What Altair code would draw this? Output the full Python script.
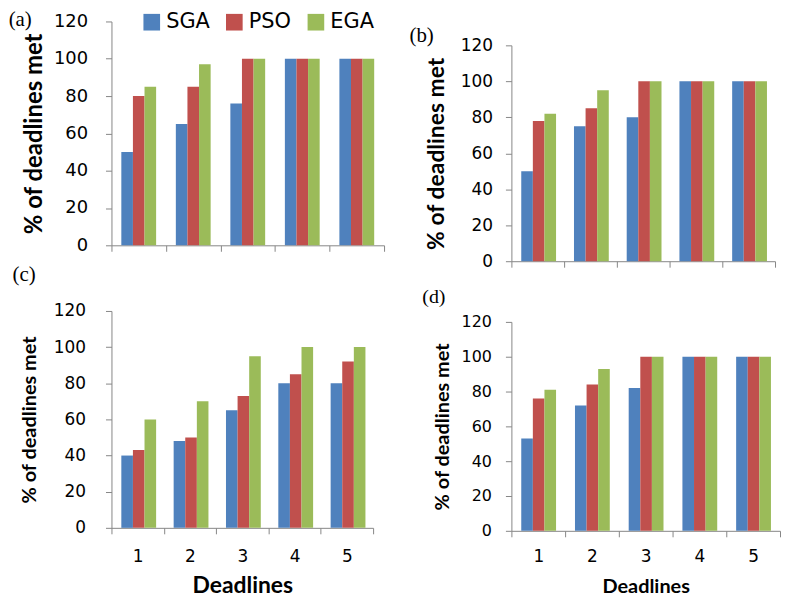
import altair as alt
import pandas as pd

deadlines = ["1", "2", "3", "4", "5"]
algorithms = ["SGA", "PSO", "EGA"]
colors = ["#4F81BD", "#C0504D", "#9BBB59"]

a_sga = [50, 65, 76, 100, 100]
a_pso = [80, 85, 100, 100, 100]
a_ega = [85, 97, 100, 100, 100]

b_sga = [50, 75, 80, 100, 100]
b_pso = [78, 85, 100, 100, 100]
b_ega = [82, 95, 100, 100, 100]

c_sga = [40, 48, 65, 80, 80]
c_pso = [43, 50, 73, 85, 92]
c_ega = [60, 70, 95, 100, 100]

d_sga = [53, 72, 82, 100, 100]
d_pso = [76, 84, 100, 100, 100]
d_ega = [81, 93, 100, 100, 100]

y_ticks = [0, 20, 40, 60, 80, 100, 120]


def frame(sga, pso, ega):
    rows = []
    for alg, vals in zip(algorithms, [sga, pso, ega]):
        for d, v in zip(deadlines, vals):
            rows.append({"Deadline": d, "Algorithm": alg, "Value": v})
    return pd.DataFrame(rows)


GRAY = "#868686"


def panel(df, title, w, h, show_x, legend=False, tick_fs=17, title_fs=24,
          y_lab_pad=14, y_title_pad=10, x_title_fs=20, x_lab_pad=14, x_title_pad=8):
    x_axis = alt.Axis(
        title="Deadlines" if show_x else None,
        labels=show_x,
        labelAngle=0,
        tickBand="extent",
        labelFont="DejaVu Sans",
        labelFontSize=17,
        labelColor="#000000",
        labelPadding=x_lab_pad,
        titleFont="Lato",
        titleFontSize=x_title_fs,
        titleFontWeight="bold",
        titleColor="#000000",
        titlePadding=x_title_pad,
        domainColor=GRAY,
        tickColor=GRAY,
        tickSize=6,
    )
    y_axis = alt.Axis(
        title="% of deadlines met",
        values=y_ticks,
        grid=False,
        labelFont="DejaVu Sans",
        labelFontSize=tick_fs,
        labelColor="#000000",
        labelPadding=y_lab_pad,
        titleFont="Lato",
        titleFontSize=title_fs,
        titleFontWeight="bold",
        titleColor="#000000",
        titlePadding=y_title_pad,
        domainColor=GRAY,
        tickColor=GRAY,
        tickSize=6,
    )
    scale = alt.Scale(domain=algorithms, range=colors)
    if legend:
        leg = alt.Legend(
            title=None,
            orient="none",
            legendX=30,
            legendY=-10,
            direction="horizontal",
            symbolType="square",
            symbolSize=280,
            symbolStrokeWidth=0,
            labelFont="DejaVu Sans",
            labelFontSize=21,
            labelColor="#000000",
            columnPadding=14,
            labelOffset=4,
        )
        color = alt.Color("Algorithm:N", scale=scale, legend=leg)
    else:
        color = alt.Color("Algorithm:N", scale=scale, legend=None)
    return (
        alt.Chart(df)
        .mark_bar()
        .encode(
            x=alt.X("Deadline:N", sort=deadlines,
                    scale=alt.Scale(paddingInner=0, paddingOuter=0), axis=x_axis),
            xOffset=alt.XOffset("Algorithm:N", sort=algorithms,
                                scale=alt.Scale(paddingInner=0, paddingOuter=0.85)),
            y=alt.Y("Value:Q", scale=alt.Scale(domain=[0, 120], nice=False), axis=y_axis),
            color=color,
        )
        .properties(width=w, height=h, title=title)
    )


def ttl(text, offset, dx, dy=0, lines=1, size=21, line_h=21):
    return alt.TitleParams(
        [""] * (lines - 1) + [text], anchor="start", frame="bounds",
        font="Liberation Serif", fontSize=size, fontWeight="normal",
        color="#000000", offset=offset, dx=dx, dy=dy, lineHeight=line_h,
    )


pa = panel(frame(a_sga, a_pso, a_ega), ttl("(a)", 0, -14, dy=18), 274, 225, False,
           legend=True, tick_fs=18, title_fs=24, y_lab_pad=18, y_title_pad=7)
pb = panel(frame(b_sga, b_pso, b_ega), ttl("(b)", -10, -16), 265, 217, False,
           tick_fs=17, title_fs=23, y_lab_pad=13, y_title_pad=12)
pc = panel(frame(c_sga, c_pso, c_ega), ttl("(c)", 17, -7), 263, 218, True,
           tick_fs=17, title_fs=20, y_lab_pad=20, y_title_pad=14, x_title_fs=23,
           x_lab_pad=15, x_title_pad=10)
pd_ = panel(frame(d_sga, d_pso, d_ega), ttl("(d)", 7, -10, lines=2, line_h=18, size=20),
            270, 210, True,
            tick_fs=16, title_fs=20, y_lab_pad=14, y_title_pad=9, x_title_fs=20,
            x_lab_pad=12, x_title_pad=12)

spacer = (
    alt.Chart(pd.DataFrame({"v": [0]}))
    .mark_point(opacity=0)
    .encode(x=alt.X("v:Q", axis=None), y=alt.Y("v:Q", axis=None))
    .properties(width=1, height=1)
)

chart = (
    alt.hconcat(
        alt.vconcat(pa, pc, spacing=10),
        alt.vconcat(spacer, pb, pd_, spacing=0),
        spacing=24,
    )
    .properties(padding={"left": 0, "top": 0, "right": 0, "bottom": 0},
                background="#ffffff")
    .configure_view(stroke=None)
)

chart.save("out.html", embed_options={"renderer": "svg", "actions": False})
